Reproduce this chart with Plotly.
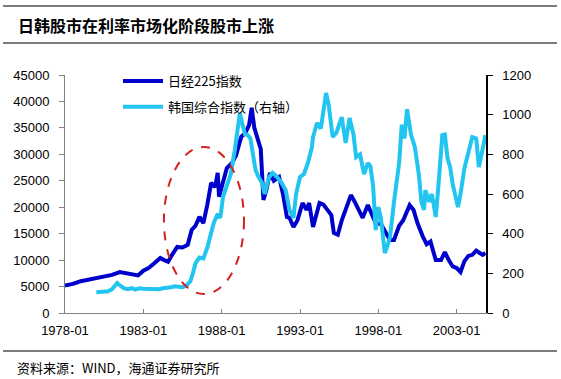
import plotly.graph_objects as go

# ---------------- data ----------------
nikkei_dates = [
    "1978-01", "1978-07", "1979-01", "1979-07", "1980-01", "1980-07", "1981-01", "1981-07",
    "1982-01", "1982-05", "1982-09", "1983-01", "1983-05", "1983-09", "1984-02", "1984-05",
    "1984-08", "1984-11", "1985-03", "1985-07", "1985-11", "1986-02", "1986-05", "1986-08",
    "1986-11", "1987-02", "1987-05", "1987-08", "1987-10", "1987-11", "1988-02", "1988-05",
    "1988-09", "1988-12", "1989-04", "1989-07", "1989-10", "1989-12", "1990-02", "1990-04",
    "1990-07", "1990-09", "1990-11", "1991-02", "1991-05", "1991-09", "1991-12", "1992-03",
    "1992-05", "1992-08", "1992-11", "1993-03", "1993-06", "1993-08", "1993-11", "1994-04",
    "1994-07", "1994-10", "1995-01", "1995-03", "1995-06", "1995-09", "1995-12", "1996-04",
    "1996-07", "1996-11", "1997-01", "1997-05", "1997-08", "1997-11", "1998-03", "1998-06",
    "1998-10", "1999-01", "1999-05", "1999-08", "2000-01", "2000-04", "2000-07", "2000-11",
    "2001-02", "2001-05", "2001-08", "2001-09", "2002-01", "2002-04", "2002-07", "2002-10",
    "2003-01", "2003-04", "2003-07", "2003-10", "2004-01", "2004-04", "2004-07", "2004-09",
    "2004-11",
]
nikkei_values = [
    5200, 5500, 6000, 6300, 6600, 7000, 7200, 7750,
    7500, 7300, 7100, 8000, 8500, 9300, 10400, 10000,
    9700, 11000, 12500, 12400, 12900, 15700, 16500, 18200,
    17000, 20500, 24600, 23800, 26500, 22000, 24500, 27400,
    28400, 29800, 33300, 34000, 35500, 38800, 35000, 33300,
    31000, 21400, 23000, 26500, 25000, 25700, 22500, 18150,
    18000, 16260, 17500, 20800, 19500, 20800, 16260, 20800,
    20500, 19500, 18500, 15130, 14800, 17500, 19800, 22300,
    21000, 19100, 18000, 20400, 18500, 17000, 16800, 15500,
    13800, 13800, 16500, 17500, 20400, 19500, 17000, 14500,
    13000, 13500, 10500, 10000, 10000, 11500, 10000, 8800,
    8500, 7750, 9800, 10800, 11000, 11800, 11300, 11000,
    11350,
]

kospi_dates = [
    "1980-01", "1980-04", "1980-07", "1980-10", "1981-01", "1981-05", "1981-07", "1981-10",
    "1982-01", "1982-04", "1982-07", "1982-10", "1983-01", "1983-04", "1983-07", "1983-10",
    "1984-01", "1984-04", "1984-07", "1984-10", "1985-01", "1985-04", "1985-07", "1985-10",
    "1986-01", "1986-03", "1986-05", "1986-08", "1986-11", "1987-02", "1987-05", "1987-07",
    "1987-10", "1987-12", "1988-02", "1988-05", "1988-08", "1988-11", "1989-01", "1989-03",
    "1989-05", "1989-07", "1989-09", "1989-11", "1990-01", "1990-03", "1990-05", "1990-08",
    "1990-10", "1991-01", "1991-04", "1991-07", "1991-11", "1992-02", "1992-05", "1992-08",
    "1992-10", "1993-01", "1993-04", "1993-07", "1993-10", "1993-11", "1994-02", "1994-05",
    "1994-09", "1994-11", "1995-02", "1995-05", "1995-09", "1995-12", "1996-03", "1996-06",
    "1996-08", "1996-11", "1997-02", "1997-05", "1997-07", "1997-09", "1997-11", "1998-01",
    "1998-03", "1998-06", "1998-08", "1998-10", "1999-01", "1999-05", "1999-07", "1999-09",
    "1999-11", "2000-02", "2000-05", "2000-08", "2000-10", "2000-12", "2001-01", "2001-04",
    "2001-06", "2001-09", "2001-11", "2002-02", "2002-04", "2002-06", "2002-08", "2002-10",
    "2003-02", "2003-04", "2003-07", "2003-10", "2004-01", "2004-04", "2004-06", "2004-09",
    "2004-11",
]
kospi_values = [
    105, 108, 110, 110, 120, 151, 140, 125,
    120, 125, 118, 125, 122, 122, 120, 118,
    120, 125, 125, 130, 135, 132, 130, 138,
    160, 200, 250, 280, 275, 330, 400, 454,
    500, 480, 585, 650, 700, 820, 907, 1008,
    950, 900, 897, 880, 800, 721, 690, 655,
    600, 680, 706, 690, 655, 620, 519, 480,
    600, 686, 700, 756, 830, 887, 958, 930,
    1109, 1050, 887, 910, 988, 857, 983, 900,
    786, 800, 700, 756, 740, 640, 418, 534,
    480, 302, 340, 383, 560, 756, 950, 880,
    1028, 900, 837, 700, 560, 520, 620, 560,
    600, 484, 640, 897, 900, 780, 736, 650,
    534, 600, 730, 800, 887, 880, 736, 830,
    897,
]

tick_vals = ["1978-01-01", "1983-01-01", "1988-01-01", "1993-01-01", "1998-01-01", "2003-01-01"]
tick_text = ["1978-01", "1983-01", "1988-01", "1993-01", "1998-01", "2003-01"]

name_nikkei = "日经225指数"
name_kospi = "韩国综合指数（右轴）"
title_text = "日韩股市在利率市场化阶段股市上涨"
source_text = "资料来源：WIND，海通证券研究所"

# ---------------- figure ----------------
fig = go.Figure()
fig.add_trace(go.Scatter(
    x=nikkei_dates, y=nikkei_values, name=name_nikkei, mode="lines",
    line=dict(color="#0000CC", width=4), legendgroup="a", yaxis="y",
))
fig.add_trace(go.Scatter(
    x=kospi_dates, y=kospi_values, name=name_kospi, mode="lines",
    line=dict(color="#22C5EF", width=4), legendgroup="b", yaxis="y2",
))

L, R, T, B = 65, 486, 75, 313
W, H = 561, 379
pw, ph = R - L, B - T


def px(x):
    return (x - L) / pw


def py(y):
    return (B - y) / ph


axis_font = dict(family="Liberation Sans, Arial", size=13, color="#000000")

fig.update_layout(
    width=W, height=H,
    margin=dict(l=L, r=W - R, t=T, b=H - B, pad=0),
    paper_bgcolor="white", plot_bgcolor="white",
    showlegend=True,
    legend=dict(
        x=px(118), y=py(66), xanchor="left", yanchor="top",
        bgcolor="rgba(0,0,0,0)", traceorder="grouped", tracegroupgap=6,
        font=dict(family="Noto Sans CJK SC", size=13, color="#000000"),
        itemwidth=40,
    ),
    xaxis=dict(
        type="date", range=["1978-01-01", "2004-11-15"],
        tickvals=tick_vals, ticktext=tick_text,
        showgrid=False, zeroline=False,
        showline=True, linecolor="#808080", linewidth=1,
        ticks="inside", ticklen=4, tickcolor="#808080",
        tickfont=axis_font, ticklabelstandoff=5,
    ),
    yaxis=dict(
        range=[0, 45000], dtick=5000, tick0=0, tickformat="d",
        showgrid=False, zeroline=False,
        showline=True, linecolor="#808080", linewidth=1,
        ticks="outside", ticklen=5, tickcolor="#808080",
        tickfont=axis_font, ticklabelstandoff=7,
    ),
    yaxis2=dict(
        range=[0, 1200], dtick=200, tick0=0, tickformat="d",
        overlaying="y", side="right",
        showgrid=False, zeroline=False,
        showline=True, linecolor="#000000", linewidth=1.5,
        ticks="outside", ticklen=5, tickcolor="#000000",
        tickfont=axis_font, ticklabelstandoff=7,
    ),
)

# ellipse highlighting the liberalisation period
fig.add_shape(
    type="circle", xref="x", yref="y",
    x0="1984-04-25", x1="1989-06-05", y0=3590, y1=31390,
    line=dict(color="#D42222", width=2, dash="dash"),
)

# header / footer rules
for yy in (6, 43, 351):
    fig.add_shape(
        type="line", xref="paper", yref="paper",
        x0=px(3), x1=px(557), y0=py(yy), y1=py(yy),
        line=dict(color="#505050", width=1.5),
    )

fig.add_annotation(
    text="<b>" + title_text + "</b>", xref="paper", yref="paper",
    x=px(16), y=py(25), xanchor="left", yanchor="middle", showarrow=False,
    font=dict(family="Noto Sans CJK SC", size=16, color="#000000"),
)
fig.add_annotation(
    text=source_text, xref="paper", yref="paper",
    x=px(15), y=py(367), xanchor="left", yanchor="middle", showarrow=False,
    font=dict(family="Noto Sans CJK SC", size=13, color="#000000"),
)

fig.write_html(
    "out.html",
    config={"displayModeBar": False},
    post_script="document.body.style.margin='0';",
)
